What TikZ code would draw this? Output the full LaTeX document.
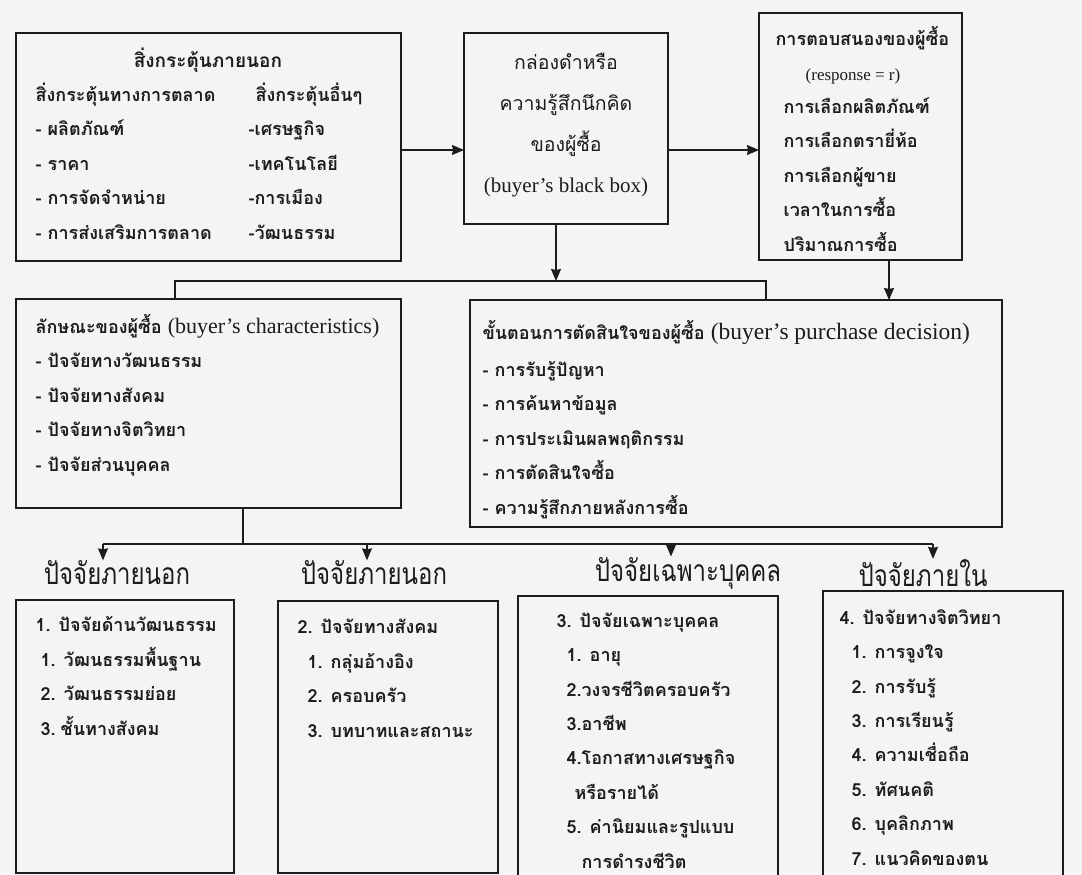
\documentclass[tikz,border=0pt]{standalone}
\usepackage{fontspec}
\setmainfont{Liberation Serif}
\newfontfamily\thai[Script=Thai]{Loma}
\usetikzlibrary{arrows.meta}
\definecolor{paper}{HTML}{F4F4F4}
\definecolor{ink}{HTML}{1C1C1C}

\begin{document}
\begin{tikzpicture}[x=1pt, y=-1pt, >={Stealth[width=10pt,length=12pt,inset=1pt]}, line width=1.2pt, color=ink,
  box/.style={draw, inner sep=0pt, outer sep=0pt},
  list/.style={anchor=base west, align=left, inner sep=0pt, font=\fontsize{18}{34.4}\selectfont\thai\bfseries},
  big/.style={align=center, inner sep=0pt, font=\fontsize{19.5}{41}\selectfont\thai},
  head/.style={inner sep=0pt, xscale=0.8, font=\fontsize{30}{30}\selectfont\thai}]
  \fill[paper] (0,0) rectangle (1082,875);
  \clip (0,0) rectangle (1082,875);

  % boxes
  \draw (208.5,147.0)node[box, minimum width=385pt, minimum height=228pt](0){};
  \draw (566.0,128.5)node[box, minimum width=204pt, minimum height=191pt](1){};
  \draw (860.5,136.5)node[box, minimum width=203pt, minimum height=247pt](2){};
  \draw (208.5,403.5)node[box, minimum width=385pt, minimum height=209pt](3){};
  \draw (736.0,413.5)node[box, minimum width=532pt, minimum height=227pt](4){};
  \draw (125.0,736.5)node[box, minimum width=218pt, minimum height=273pt](5){};
  \draw (388.0,737.0)node[box, minimum width=220pt, minimum height=272pt](6){};
  \draw (648.0,738.0)node[box, minimum width=260pt, minimum height=284pt](7){};
  \draw (943.0,735.5)node[box, minimum width=240pt, minimum height=289pt](8){};

  % headings
  \draw (117.0,573.0)node[head](9){ปัจจัยภายนอก};
  \draw (374.0,573.0)node[head](10){ปัจจัยภายนอก};
  \draw (688.0,573.0)node[head](11){ปัจจัยเฉพาะบุคคล};
  \draw (923.0,573.0)node[head](12){ปัจจัยภายใน};

  % texts (base = last line)
  \draw (208.0,60.0)node[inner sep=0pt, font=\fontsize{19}{19}\selectfont\thai\bfseries](0t){สิ่งกระตุ้นภายนอก};
  \draw (35.0,239.0)node[list](0l){สิ่งกระตุ้นทางการตลาด\\- ผลิตภัณฑ์\\- ราคา\\- การจัดจำหน่าย\\- การส่งเสริมการตลาด};
  \draw (248.0,239.0)node[list](0r){\hspace*{7pt}สิ่งกระตุ้นอื่นๆ\\-เศรษฐกิจ\\-เทคโนโลยี\\-การเมือง\\-วัฒนธรรม};
  \draw (566.0,125.0)node[big](1t){กล่องดำหรือ\\ความรู้สึกนึกคิด\\ของผู้ซื้อ\\{\rmfamily\fontsize{21}{41}\selectfont (buyer’s black box)}};
  \draw (775.0,46.0)node[list](2t){การตอบสนองของผู้ซื้อ};
  \draw (853.0,76.0)node[inner sep=0pt, font=\fontsize{17}{17}\selectfont](2r){(response = r)};
  \draw (783.0,251.0)node[list](2l){การเลือกผลิตภัณฑ์\\การเลือกตรายี่ห้อ\\การเลือกผู้ขาย\\เวลาในการซื้อ\\ปริมาณการซื้อ};
  \draw (35.0,471.0)node[list](3l){ลักษณะของผู้ซื้อ {\rmfamily\mdseries\fontsize{22}{22}\selectfont (buyer’s characteristics)}\\- ปัจจัยทางวัฒนธรรม\\- ปัจจัยทางสังคม\\- ปัจจัยทางจิตวิทยา\\- ปัจจัยส่วนบุคคล};
  \draw (482.0,339.0)node[list](4t){ขั้นตอนการตัดสินใจของผู้ซื้อ {\rmfamily\mdseries\fontsize{23.5}{23.5}\selectfont (buyer’s purchase decision)}};
  \draw (482.0,514.0)node[list](4l){- การรับรู้ปัญหา\\- การค้นหาข้อมูล\\- การประเมินผลพฤติกรรม\\- การตัดสินใจซื้อ\\- ความรู้สึกภายหลังการซื้อ};
  \draw (35.0,735.0)node[list](5l){1. ปัจจัยด้านวัฒนธรรม\\\hspace*{5pt}1. วัฒนธรรมพื้นฐาน\\\hspace*{5pt}2. วัฒนธรรมย่อย\\\hspace*{5pt}3.\hspace*{5pt}ชั้นทางสังคม};
  \draw (297.0,737.0)node[list](6l){2. ปัจจัยทางสังคม\\\hspace*{10pt}1. กลุ่มอ้างอิง\\\hspace*{10pt}2. ครอบครัว\\\hspace*{10pt}3. บทบาทและสถานะ};
  \draw (556.0,868.0)node[list](7l){3. ปัจจัยเฉพาะบุคคล\\\hspace*{10pt}1. อายุ\\\hspace*{10pt}2.วงจรชีวิตครอบครัว\\\hspace*{10pt}3.อาชีพ\\\hspace*{10pt}4.โอกาสทางเศรษฐกิจ\\\hspace*{18pt}หรือรายได้\\\hspace*{10pt}5. ค่านิยมและรูปแบบ\\\hspace*{25pt}การดำรงชีวิต};
  \draw (839.0,865.0)node[list](8l){4. ปัจจัยทางจิตวิทยา\\\hspace*{12pt}1. การจูงใจ\\\hspace*{12pt}2. การรับรู้\\\hspace*{12pt}3. การเรียนรู้\\\hspace*{12pt}4. ความเชื่อถือ\\\hspace*{12pt}5. ทัศนคติ\\\hspace*{12pt}6. บุคลิกภาพ\\\hspace*{12pt}7. แนวคิดของตน};

  % connectors
  \coordinate (r) at (0,150);
  \path[->] (0.east |- r) edge (1.west |- r);
  \path[->] (1.east |- r) edge (2.west |- r);
  \coordinate (j1) at (175,281);
  \coordinate (j2) at (766,281);
  \coordinate (d) at (556,281);
  \coordinate (e) at (889,0);
  \draw (3.north -| j1) -- (j1) -- (j2) -- (4.north -| j2);
  \path[->] (1.south -| d) edge (d);
  \path[->] (2.south -| e) edge (4.north -| e);
  \coordinate (k) at (243,544);
  \foreach \x/\n in {103/9,367/10,671/11,933/12}
    \coordinate (k\n) at (\x,544);
  \draw (3.south -| k) -- (k);
  \draw (k9) -- (k12);
  \foreach \n in {9,...,12}
    \path[->] (k\n) edge (k\n |- \n.north);
\end{tikzpicture}
\end{document}
